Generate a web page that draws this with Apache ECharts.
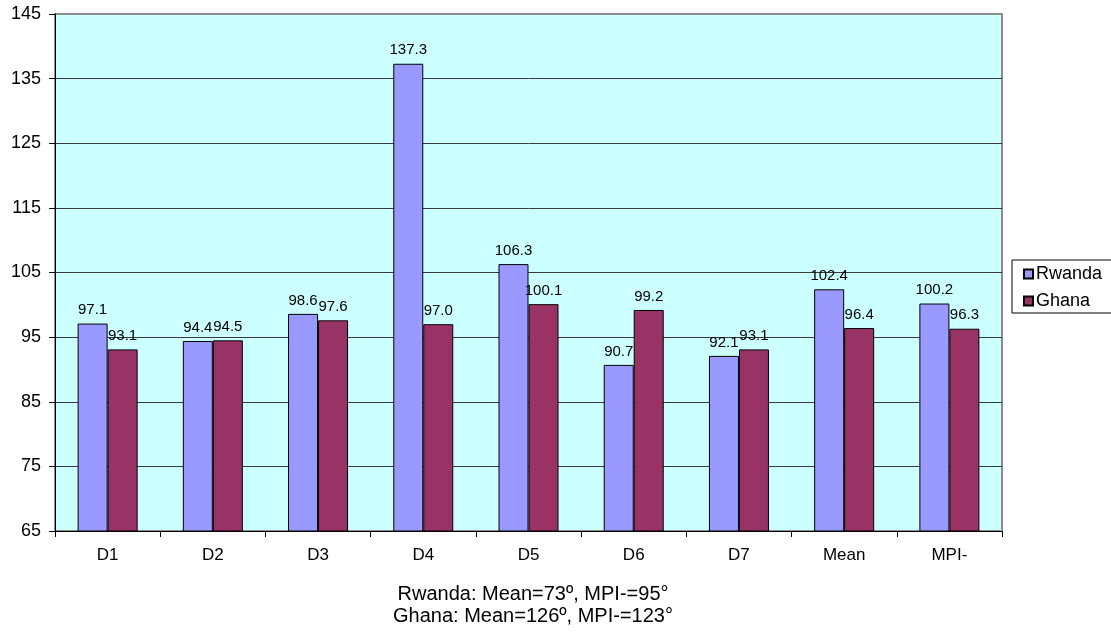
<!DOCTYPE html>
<html>
<head>
<meta charset="utf-8">
<script src="https://cdn.jsdelivr.net/npm/echarts@6/dist/echarts.min.js"></script>
<style>
  html, body { margin: 0; padding: 0; background: #fff; }
  #chart { width: 1111px; height: 633px; }
</style>
</head>
<body>
<div id="chart"></div>
<script>
// Categories along the x axis
const categories = ['D1', 'D2', 'D3', 'D4', 'D5', 'D6', 'D7', 'Mean', 'MPI-'];

// Series values
const rwanda = [97.1, 94.4, 98.6, 137.3, 106.3, 90.7, 92.1, 102.4, 100.2];
const ghana = [93.1, 94.5, 97.6, 97.0, 100.1, 99.2, 93.1, 96.4, 96.3];

// Value-axis tick labels (bottom to top)
const yTicks = [65, 75, 85, 95, 105, 115, 125, 135, 145];

// Caption under the axis
const captionLines = [
  'Rwanda: Mean=73º, MPI-=95°',
  'Ghana: Mean=126º, MPI-=123°'
];

const FONT = '"Liberation Sans", Arial, Helvetica, sans-serif';
const yMin = yTicks[0];
const yMax = yTicks[yTicks.length - 1];

const chart = echarts.init(document.getElementById('chart'), null, { renderer: 'canvas' });

const barLabel = {
  show: true,
  position: 'top',
  distance: 6,
  color: '#000',
  fontSize: 15,
  fontFamily: FONT,
  formatter: (p) => Number(p.value).toFixed(1)
};

chart.setOption({
  animation: false,
  backgroundColor: '#ffffff',
  textStyle: { fontFamily: FONT },
  title: {
    text: captionLines.join('\n'),
    left: 528,
    top: 578,
    textAlign: 'center',
    textStyle: {
      fontFamily: FONT,
      fontSize: 20,
      lineHeight: 22,
      fontWeight: 'normal',
      color: '#000'
    }
  },
  legend: {
    orient: 'vertical',
    left: 1012,
    top: 260,
    width: 97,
    padding: [5, 20, 3, 11],
    itemGap: 9,
    itemWidth: 9,
    itemHeight: 9,
    borderColor: '#000',
    borderWidth: 1,
    icon: 'rect',
    textStyle: { fontFamily: FONT, fontSize: 18, color: '#000', padding: [0, 0, 0, -2] },
    data: ['Rwanda', 'Ghana']
  },
  grid: {
    left: 55,
    right: 109,
    top: 14,
    bottom: 102,
    show: true,
    backgroundColor: '#CCFFFF',
    borderColor: '#8c8c8c',
    borderWidth: 2
  },
  xAxis: {
    type: 'category',
    data: categories,
    boundaryGap: true,
    axisLine: { show: true, lineStyle: { color: '#000', width: 1 } },
    axisTick: { show: true, alignWithLabel: false, length: 6, lineStyle: { color: '#000' } },
    axisLabel: { fontSize: 17, fontFamily: FONT, color: '#000', margin: 16 },
    splitLine: { show: false }
  },
  yAxis: [
    {
      // value scale for the bars
      type: 'value',
      min: yMin,
      max: yMax,
      show: false,
      splitLine: { show: false }
    },
    {
      // tick / gridline scale: one step per label in yTicks
      type: 'value',
      position: 'left',
      min: 0,
      max: yTicks.length - 1,
      interval: 1,
      axisLine: { show: true, onZero: false, lineStyle: { color: '#000', width: 1 } },
      axisTick: { show: true, length: 6, lineStyle: { color: '#000' } },
      axisLabel: {
        fontSize: 18,
        fontFamily: FONT,
        color: '#000',
        margin: 14,
        formatter: (v) => String(yTicks[Math.round(v)])
      },
      splitLine: {
        show: true,
        showMinLine: false,
        showMaxLine: false,
        lineStyle: { color: '#3a3a3a', width: 1 }
      }
    }
  ],
  series: [
    {
      name: 'Rwanda',
      type: 'bar',
      yAxisIndex: 0,
      data: rwanda,
      barWidth: 30,
      barGap: '0%',
      itemStyle: { color: '#9999FF', borderColor: '#000', borderWidth: 1 },
      label: barLabel
    },
    {
      name: 'Ghana',
      type: 'bar',
      yAxisIndex: 0,
      data: ghana,
      barWidth: 30,
      barGap: '0%',
      itemStyle: { color: '#993366', borderColor: '#000', borderWidth: 1 },
      label: barLabel
    }
  ]
});
</script>
</body>
</html>
